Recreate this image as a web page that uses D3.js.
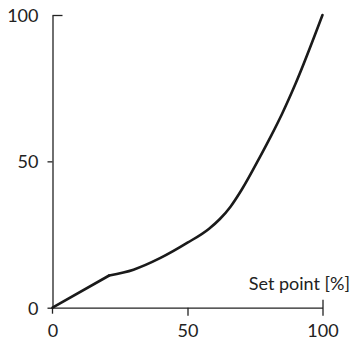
<!DOCTYPE html>
<html>
<head>
<meta charset="utf-8">
<script src="https://cdn.jsdelivr.net/npm/d3@7"></script>
<style>
  body { margin: 0; background: #fff; }
  text { font-family: Lato, "Open Sans", sans-serif; fill: #222; }
</style>
</head>
<body>
<script>
// Chart size
var width = 360;
var height = 341;

// Data
var setPoint = [0, 21, 30, 40, 50, 58, 62, 66, 70, 77, 81, 85, 90, 100];
var output   = [0, 11, 13, 17, 22.2, 27, 30.3, 34.6, 40.2, 51.8, 58.8, 66.2, 76.5, 100];
var xTicks = [0, 50, 100];
var yTicks = [0, 50, 100];
var xLabel = "Set point [%]";

var data = setPoint.map(function(d, i) { return { x: d, y: output[i] }; });

var x = d3.scaleLinear().domain([0, 100]).range([52.5, 322.5]);
var y = d3.scaleLinear().domain([0, 100]).range([307.7, 15]);

var svg = d3.select('body').append('svg')
  .attr('width', width)
  .attr('height', height);

// y axis
var yAxis = svg.append('g')
  .attr('transform', 'translate(' + x(0) + ',0)')
  .call(d3.axisLeft(y).tickValues(yTicks).tickSize(5).tickSizeOuter(0).tickPadding(9));

// x axis
var xAxis = svg.append('g')
  .attr('transform', 'translate(0,' + y(0) + ')')
  .call(d3.axisBottom(x).tickValues(xTicks).tickSize(8).tickSizeOuter(0).tickPadding(9));

[yAxis, xAxis].forEach(function(a) {
  a.select('.domain').attr('stroke', '#222').attr('stroke-width', 1.3);
  a.selectAll('.tick line').attr('stroke', '#222').attr('stroke-width', 1.3);
  a.selectAll('.tick text').style('font-size', '18px').attr('fill', '#222');
});

// top tick on y and last tick on x go through the axis
yAxis.selectAll('.tick').filter(function(d) { return d === 100; })
  .select('line').attr('x2', 10);
xAxis.selectAll('.tick').filter(function(d) { return d === 100; })
  .select('line').attr('y1', -8);
// no tick below the origin on x
xAxis.selectAll('.tick').filter(function(d) { return d === 0; })
  .select('line').remove();

// y axis runs a little past the x axis
svg.append('line')
  .attr('x1', x(0)).attr('x2', x(0))
  .attr('y1', y(0)).attr('y2', y(0) + 6)
  .attr('stroke', '#222').attr('stroke-width', 1.3);

yAxis.selectAll('.tick text').attr('dy', '0.36em');

svg.append('text')
  .attr('x', 350)
  .attr('y', 290)
  .attr('text-anchor', 'end')
  .style('font-size', '18px')
  .text(xLabel);

// straight run up to the kink, then a smooth curve
var kink = 1;
var line = d3.line()
  .x(function(d) { return x(d.x); })
  .y(function(d) { return y(d.y); });

svg.append('path')
  .datum(data.slice(0, kink + 1))
  .attr('fill', 'none')
  .attr('stroke', '#1a1a1a')
  .attr('stroke-width', 2.6)
  .attr('stroke-linecap', 'round')
  .attr('d', line.curve(d3.curveLinear));

svg.append('path')
  .datum(data.slice(kink))
  .attr('fill', 'none')
  .attr('stroke', '#1a1a1a')
  .attr('stroke-width', 2.6)
  .attr('stroke-linecap', 'round')
  .attr('d', line.curve(d3.curveMonotoneX));
</script>
</body>
</html>
